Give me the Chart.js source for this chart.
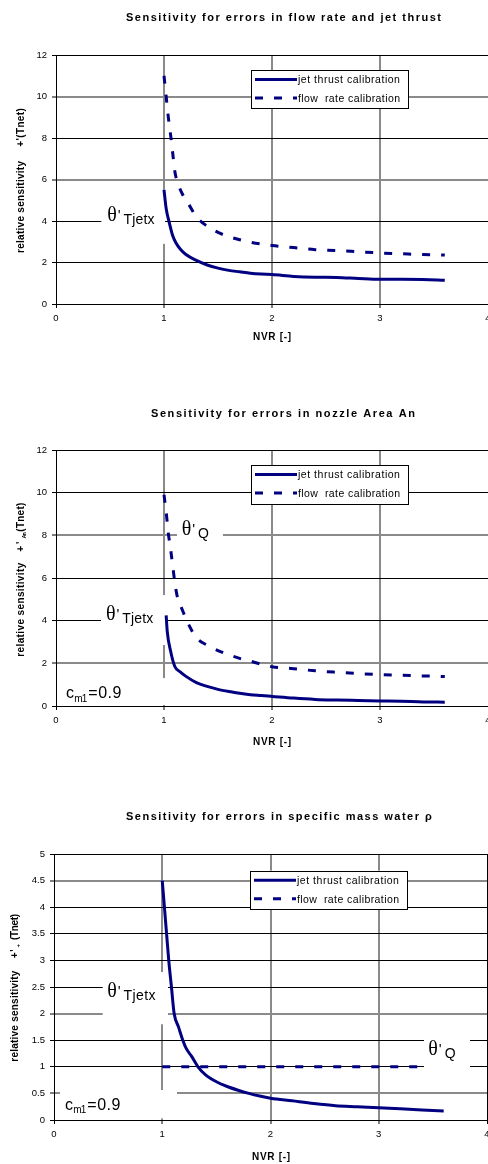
<!DOCTYPE html>
<html><head><meta charset="utf-8">
<script src="https://cdn.jsdelivr.net/npm/chart.js@4/dist/chart.umd.min.js"></script>
<style>
html,body{margin:0;padding:0;background:#fff;}
body{width:488px;height:1164px;position:relative;overflow:hidden;}
canvas.c{position:absolute;left:0;}
</style></head><body>
<canvas id="c1" class="c" width="488" height="350" style="top:0px"></canvas>
<canvas id="c2" class="c" width="488" height="370" style="top:380px"></canvas>
<canvas id="c3" class="c" width="488" height="384" style="top:780px"></canvas>
<script>
// ---------------- DATA ----------------
const seriesNames = ['jet thrust calibration', 'flow  rate calibration'];
const xTicks = [0, 1, 2, 3, 4];
const yTicks12 = [0, 2, 4, 6, 8, 10, 12];
const yTicks5 = [0, 0.5, 1, 1.5, 2, 2.5, 3, 3.5, 4, 4.5, 5];

// Chart 1: flow rate and jet thrust
const c1JetNVR  = [1.0, 1.02, 1.05, 1.08, 1.11, 1.15, 1.2, 1.3, 1.4, 1.5, 1.6, 1.7, 1.8, 1.9, 2.0, 2.2, 2.4, 2.6, 2.8, 3.0, 3.2, 3.4, 3.6];
const c1JetVal  = [5.5, 4.6, 3.9, 3.3, 2.95, 2.65, 2.4, 2.1, 1.88, 1.73, 1.62, 1.55, 1.48, 1.44, 1.42, 1.33, 1.29, 1.28, 1.23, 1.19, 1.19, 1.18, 1.15];
const c1FlowNVR = [1.0, 1.02, 1.04, 1.06, 1.08, 1.1, 1.13, 1.17, 1.23, 1.3, 1.4, 1.5, 1.6, 1.7, 1.8, 2.0, 2.2, 2.4, 2.6, 2.8, 3.0, 3.2, 3.4, 3.6];
const c1FlowVal = [11.0, 10.0, 9.0, 8.2, 7.3, 6.4, 5.8, 5.3, 4.8, 4.2, 3.75, 3.45, 3.25, 3.1, 2.98, 2.82, 2.72, 2.62, 2.58, 2.52, 2.46, 2.42, 2.38, 2.36];

// Chart 2: nozzle area An
const c2JetNVR  = [1.02, 1.03, 1.06, 1.1, 1.15, 1.2, 1.3, 1.4, 1.5, 1.6, 1.7, 1.8, 1.9, 2.0, 2.2, 2.4, 2.6, 2.8, 3.0, 3.2, 3.4, 3.6];
const c2JetVal  = [4.25, 3.5, 2.6, 1.85, 1.6, 1.4, 1.1, 0.92, 0.78, 0.68, 0.6, 0.53, 0.49, 0.45, 0.37, 0.31, 0.28, 0.26, 0.24, 0.22, 0.19, 0.18];
const c2FlowNVR = [1.0, 1.02, 1.04, 1.06, 1.08, 1.1, 1.12, 1.17, 1.23, 1.3, 1.4, 1.5, 1.6, 1.7, 1.8, 2.0, 2.2, 2.4, 2.6, 2.8, 3.0, 3.2, 3.4, 3.6];
const c2FlowVal = [9.9, 9.1, 8.1, 7.4, 6.6, 5.8, 5.2, 4.5, 3.8, 3.2, 2.85, 2.6, 2.4, 2.23, 2.1, 1.84, 1.75, 1.65, 1.58, 1.52, 1.47, 1.44, 1.41, 1.38];

// Chart 3: specific mass water rho
const c3JetNVR  = [1.0, 1.02, 1.04, 1.06, 1.085, 1.11, 1.15, 1.19, 1.22, 1.27, 1.33, 1.4, 1.5, 1.6, 1.7, 1.8, 1.9, 2.0, 2.2, 2.4, 2.6, 2.8, 3.0, 3.2, 3.4, 3.6];
const c3JetVal  = [4.5, 4.0, 3.5, 3.0, 2.5, 2.0, 1.75, 1.5, 1.35, 1.2, 1.0, 0.85, 0.72, 0.63, 0.56, 0.5, 0.45, 0.41, 0.36, 0.31, 0.27, 0.25, 0.23, 0.21, 0.19, 0.17];
const c3FlowNVR = [1.0, 1.1, 1.2, 1.3, 1.4, 1.5, 1.6, 1.7, 1.8, 1.9, 2.0, 2.2, 2.4, 2.6, 2.8, 3.0, 3.2, 3.4];
const c3FlowVal = [1, 1, 1, 1, 1, 1, 1, 1, 1, 1, 1, 1, 1, 1, 1, 1, 1, 1];

// ---------------- STYLE / HELPERS ----------------
const NAVY = '#000080';
const SANS = '"Liberation Sans", Arial, sans-serif';
const SERIF = '"Liberation Serif", "Times New Roman", serif';
const DASH = [8, 11];

function pts(xs, ys) { return xs.map((x, i) => ({ x: x, y: ys[i] })); }

function fitText(ctx, text, font, x, y, width) {
  ctx.save();
  ctx.font = font;
  try { ctx.letterSpacing = '0px'; } catch (e) {}
  const w0 = ctx.measureText(text).width;
  const n = Array.from(text).length;
  if (width && n > 1) {
    const ls = (width - w0) / (n - 1);
    try { ctx.letterSpacing = ls.toFixed(2) + 'px'; } catch (e) {}
  }
  ctx.textAlign = 'left';
  ctx.textBaseline = 'alphabetic';
  ctx.fillText(text, x, y);
  ctx.restore();
}

const textPlugin = {
  id: 'textPlugin',
  beforeDatasetsDraw(chart) {
    const o = chart.options.plugins.textPlugin;
    const ctx = chart.ctx, xs = chart.scales.x, ys = chart.scales.y;
    ctx.save();
    ctx.fillStyle = '#fff';
    (o.boxes || []).forEach(b => {
      const x0 = xs.getPixelForValue(b[0]), x1 = xs.getPixelForValue(b[1]);
      const y0 = ys.getPixelForValue(b[2]), y1 = ys.getPixelForValue(b[3]);
      ctx.fillRect(x0, y0, x1 - x0, y1 - y0);
    });
    ctx.fillStyle = '#000';
    (o.labels || []).forEach(l => {
      const px = xs.getPixelForValue(l.x), py = ys.getPixelForValue(l.y);
      l.parts.forEach(p => fitText(ctx, p.t, p.font, px + p.dx, py + p.dy, p.w));
    });
    ctx.restore();
  },
  afterDatasetsDraw(chart) {
    const o = chart.options.plugins.textPlugin;
    const ctx = chart.ctx;
    const L = o.legend;
    ctx.save();
    ctx.fillStyle = '#fff';
    ctx.fillRect(L.left, L.top, L.w, L.h);
    ctx.strokeStyle = '#000';
    ctx.lineWidth = 1;
    ctx.strokeRect(Math.round(L.left) + 0.5, Math.round(L.top) + 0.5, Math.round(L.w), Math.round(L.h));
    const rows = [L.top + 9.5, L.top + 28];
    chart.data.datasets.forEach((ds, i) => {
      const y = rows[i];
      ctx.save();
      ctx.strokeStyle = ds.borderColor;
      ctx.lineWidth = ds.borderWidth;
      ctx.setLineDash(ds.borderDash || []);
      ctx.beginPath();
      ctx.moveTo(L.left + 4, y);
      ctx.lineTo(L.left + 46, y);
      ctx.stroke();
      ctx.restore();
      ctx.fillStyle = '#000';
      fitText(ctx, ds.label, '10.5px ' + SANS, L.left + 47, y + 3.8, 102);
    });
    ctx.restore();
  },
  afterDraw(chart) {
    const o = chart.options.plugins.textPlugin;
    const ctx = chart.ctx;
    ctx.save();
    ctx.fillStyle = '#000';
    const T = o.title;
    fitText(ctx, T.text, 'bold 11px ' + SANS, T.x, T.y, T.w);
    const X = o.xTitle;
    fitText(ctx, 'NVR [-]', 'bold 10px ' + SANS, X.x, X.y, 38);
    const Y = o.yTitle;
    ctx.save();
    ctx.translate(Y.x, 0);
    ctx.rotate(-Math.PI / 2);
    Y.runs.forEach(r => {
      fitText(ctx, r.t, r.font, -r.from, r.dy || 0, r.w);
    });
    ctx.restore();
    ctx.restore();
  }
};

function makeChart(id, cfg) {
  const canvas = document.getElementById(id);
  const H = canvas.height;
  const gridColor = (greySet) => (c) => (greySet.includes(c.tick.value) ? '#8a8a8a' : '#000');
  const gridWidth = (greySet) => (c) => (greySet.includes(c.tick.value) ? 2 : 1);
  return new Chart(canvas, {
    type: 'line',
    data: {
      datasets: [
        { label: seriesNames[0], data: pts(cfg.jetX, cfg.jetY), borderColor: NAVY, backgroundColor: NAVY,
          borderWidth: 3, pointRadius: 0, cubicInterpolationMode: 'monotone', fill: false },
        { label: seriesNames[1], data: pts(cfg.flowX, cfg.flowY), borderColor: NAVY, backgroundColor: NAVY,
          borderWidth: 3, borderDash: DASH, pointRadius: 0, cubicInterpolationMode: 'monotone', fill: false }
      ]
    },
    options: {
      responsive: false,
      animation: false,
      events: [],
      layout: { padding: { top: cfg.area.top, left: 0, right: cfg.area.right, bottom: 0 } },
      scales: {
        x: {
          type: 'linear', min: 0, max: 4,
          afterBuildTicks: s => { s.ticks = xTicks.map(v => ({ value: v })); },
          afterFit: s => { s.height = H - cfg.area.bottom; s.paddingLeft = 0; s.paddingRight = 0; },
          ticks: { font: { family: SANS, size: 9.5 }, color: '#000', padding: 5, maxRotation: 0, autoSkip: false,
                   callback: v => String(v) },
          grid: { color: gridColor([1, 2, 3]), lineWidth: gridWidth([1, 2, 3]), tickLength: 4, tickColor: '#000', tickWidth: 1 },
          border: { display: true, color: '#000', width: 1 }
        },
        y: {
          type: 'linear', min: 0, max: cfg.yMax,
          afterBuildTicks: s => { s.ticks = cfg.yTicks.map(v => ({ value: v })); },
          afterFit: s => { s.width = cfg.area.left; s.paddingTop = 0; s.paddingBottom = 0; },
          ticks: { font: { family: SANS, size: 9.5 }, color: '#000', padding: 5, autoSkip: false,
                   callback: v => String(v) },
          grid: { color: gridColor(cfg.greyY), lineWidth: gridWidth(cfg.greyY), tickLength: 4, tickColor: '#000', tickWidth: 1 },
          border: { display: true, color: '#000', width: 1 }
        }
      },
      plugins: {
        legend: { display: false },
        title: { display: false },
        tooltip: { enabled: false },
        textPlugin: cfg.text
      }
    },
    plugins: [textPlugin]
  });
}

const theta = (x, y, sub, subW) => ({
  x: x, y: y, parts: [
    { t: 'θ', font: '20px ' + SERIF, dx: 0, dy: 0 },
    { t: "'", font: '15px ' + SANS, dx: 10.5, dy: -1 },
    { t: sub, font: '14px ' + SANS, dx: 16.3, dy: 3.4, w: subW }
  ]
});
const cm1 = (x, y) => ({
  x: x, y: y, parts: [
    { t: 'c', font: '16px ' + SANS, dx: 0, dy: 0 },
    { t: 'm1', font: '10px ' + SANS, dx: 8.3, dy: 3.4, w: 13 },
    { t: '=0.9', font: '16px ' + SANS, dx: 22.3, dy: 0, w: 33 }
  ]
});
const BOLD = 'bold 10px ' + SANS;

makeChart('c1', {
  jetX: c1JetNVR, jetY: c1JetVal, flowX: c1FlowNVR, flowY: c1FlowVal,
  yMax: 12, yTicks: yTicks12, greyY: [6, 10],
  area: { left: 56, top: 55, bottom: 304, right: 0 },
  text: {
    title: { text: 'Sensitivity for errors in flow rate and jet thrust', x: 126, y: 21, w: 315 },
    xTitle: { x: 253, y: 339.5 },
    yTitle: { x: 23.5, runs: [
      { t: 'relative sensitivity', font: BOLD, from: 253, w: 92 },
      { t: "+'(Tnet)", font: BOLD, from: 146.7, w: 38.5 }
    ] },
    legend: { left: 251, top: 70, w: 157, h: 38 },
    boxes: [[0.42, 1.01, 5.5, 2.9]],
    labels: [theta(0.475, 4.0, 'Tjetx', 31)]
  }
});

makeChart('c2', {
  jetX: c2JetNVR, jetY: c2JetVal, flowX: c2FlowNVR, flowY: c2FlowVal,
  yMax: 12, yTicks: yTicks12, greyY: [2, 8],
  area: { left: 56, top: 70, bottom: 326, right: 0 },
  text: {
    title: { text: 'Sensitivity for errors in nozzle Area An', x: 151, y: 37, w: 264 },
    xTitle: { x: 253, y: 364.5 },
    yTitle: { x: 23.5, runs: [
      { t: 'relative sensitivity', font: BOLD, from: 276.7, w: 94 },
      { t: "+'", font: BOLD, from: 171.7, w: 10 },
      { t: 'An', font: 'bold 5px ' + SANS, from: 158.3, dy: 2.5, w: 6 },
      { t: '(Tnet)', font: BOLD, from: 151.7, w: 29 }
    ] },
    legend: { left: 251, top: 85, w: 157, h: 39 },
    boxes: [[0.417, 1.02, 5.2, 2.86], [1.12, 1.546, 9.09, 7.41], [0.037, 1.12, 1.31, 0.05]],
    labels: [theta(0.463, 4.03, 'Tjetx', 31), theta(1.164, 8.02, 'Q', 0), cm1(0.093, 0.36)]
  }
});

makeChart('c3', {
  jetX: c3JetNVR, jetY: c3JetVal, flowX: c3FlowNVR, flowY: c3FlowVal,
  yMax: 5, yTicks: yTicks5, greyY: [0.5, 2, 4.5],
  area: { left: 54, top: 74, bottom: 340, right: 1 },
  text: {
    title: { text: 'Sensitivity for errors in specific mass water ρ', x: 126, y: 40, w: 306 },
    xTitle: { x: 252, y: 379.5 },
    yTitle: { x: 17.5, runs: [
      { t: 'relative sensitivity', font: BOLD, from: 281.7, w: 91 },
      { t: "+'", font: BOLD, from: 178.3, w: 9 },
      { t: '+', font: 'bold 6px ' + SANS, from: 167.5, dy: 2.5 },
      { t: '(Tnet)', font: BOLD, from: 160, w: 26 }
    ] },
    legend: { left: 250, top: 90.7, w: 157, h: 38.3 },
    boxes: [[0.45, 1.053, 2.78, 1.80], [3.418, 3.843, 1.635, 0.902], [0.055, 1.136, 0.564, 0.03]],
    labels: [theta(0.492, 2.318, 'Tjetx', 32), theta(3.458, 1.222, 'Q', 0), cm1(0.102, 0.188)]
  }
});
</script>
</body></html>
